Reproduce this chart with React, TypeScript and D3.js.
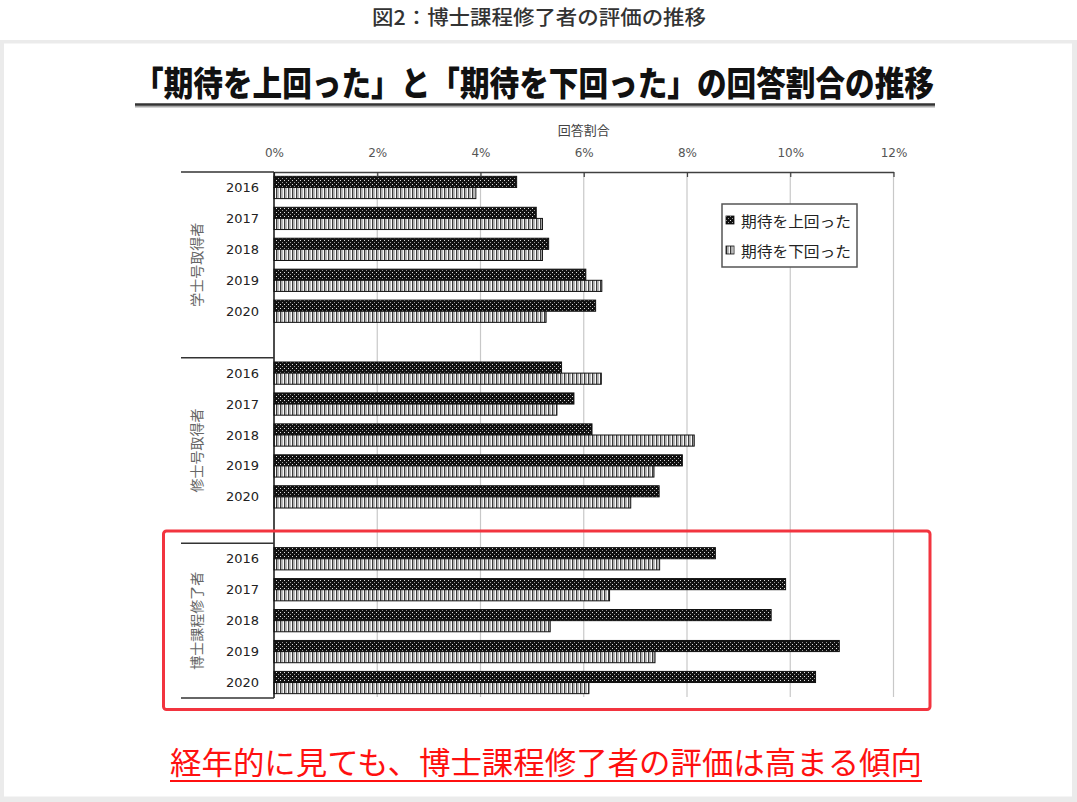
import { useEffect, useRef } from "react";
import * as d3 from "d3";

// values (percent)
const years = ["2016", "2017", "2018", "2019", "2020"];
const groups = ["学士号取得者", "修士号取得者", "博士課程修了者"];
const seriesNames = ["期待を上回った", "期待を下回った"];

const bachelorAbove = [4.7, 5.08, 5.32, 6.04, 6.23];
const bachelorBelow = [3.91, 5.2, 5.2, 6.35, 5.27];
const masterAbove = [5.57, 5.81, 6.16, 7.91, 7.46];
const masterBelow = [6.34, 5.48, 8.14, 7.36, 6.91];
const doctorAbove = [8.55, 9.91, 9.63, 10.95, 10.49];
const doctorBelow = [7.47, 6.5, 5.35, 7.38, 6.1];

const tickValues = [0, 2, 4, 6, 8, 10, 12];

const caption = "図2：博士課程修了者の評価の推移";
const title = "「期待を上回った」と「期待を下回った」の回答割合の推移";
const axisTitle = "回答割合";
const conclusion = "経年的に見ても、博士課程修了者の評価は高まる傾向";

const aboveByGroup = [bachelorAbove, masterAbove, doctorAbove];
const belowByGroup = [bachelorBelow, masterBelow, doctorBelow];

const JP = "'Noto Sans CJK JP', 'Noto Sans', sans-serif";

export default function App() {
  const axisRef = useRef<SVGGElement>(null);

  // one band per year, plus an empty band after each group except the last
  const rowKeys = groups.flatMap((g, gi) => [
    ...years.map((y) => `${g}|${y}`),
    ...(gi < groups.length - 1 ? [`${g}|gap`] : []),
  ]);

  const x = d3.scaleLinear().domain([0, 12]).range([274, 893.5]);
  const y = d3.scaleBand<string>().domain(rowKeys).range([172, 698]);
  const inner = d3
    .scaleBand<string>()
    .domain(seriesNames)
    .range([0, y.bandwidth()])
    .paddingOuter(0.39);

  const bars = groups.flatMap((g, gi) =>
    years.map((yr, yi) => ({
      key: `${g}|${yr}`,
      year: yr,
      values: [aboveByGroup[gi][yi], belowByGroup[gi][yi]],
    }))
  );

  const groupSpans = groups.map((g) => {
    const keys = rowKeys.filter((k) => k.startsWith(g + "|"));
    return { g, top: y(keys[0])!, bottom: y(keys[keys.length - 1])! + y.bandwidth() };
  });

  useEffect(() => {
    document.body.style.margin = "0";
    const g = d3.select(axisRef.current);
    g.selectAll("*").remove();
    g.call(
      d3
        .axisTop(x)
        .tickValues(tickValues)
        .tickFormat((d) => `${d}%`)
        .tickSizeInner(-5)
        .tickSizeOuter(0)
        .tickPadding(15)
    );
    g.select(".domain").attr("stroke", "#404040").attr("stroke-width", 1.5);
    g.selectAll(".tick line").attr("stroke", "#404040").attr("stroke-width", 1.2);
    g.selectAll(".tick text")
      .attr("fill", "#555")
      .attr("font-size", 12)
      .attr("font-family", "'DejaVu Sans', sans-serif");
  }, []);

  const fills = ["url(#patAbove)", "url(#patBelow)"];

  return (
    <svg width={1077} height={802} style={{ display: "block" }}>
      <defs>
        <pattern id="patAbove" width={4} height={4} patternUnits="userSpaceOnUse">
          <rect width={4} height={4} fill="#111" />
          <rect x={0} y={0} width={1} height={1} fill="#e0e0e0" />
          <rect x={2} y={2} width={1} height={1} fill="#999" />
        </pattern>
        <pattern id="patBelow" width={4} height={4} patternUnits="userSpaceOnUse">
          <rect width={4} height={4} fill="#fafafa" />
          <rect x={0} y={0} width={1.4} height={4} fill="#3a3a3a" />
          <rect x={2.2} y={0} width={0.8} height={4} fill="#aaa" />
        </pattern>
      </defs>

      <rect width={1077} height={802} fill="#fff" />
      <rect x={0} y={40} width={1077} height={762} fill="#ebebeb" />
      <rect x={4} y={43.5} width={1068} height={753} fill="#fff" />

      <text
        x={539}
        y={25}
        textAnchor="middle"
        fontFamily={JP}
        fontSize={20}
        fontWeight={500}
        fill="#333"
        textLength={334}
        lengthAdjust="spacingAndGlyphs"
      >
        {caption}
      </text>

      <text
        x={534}
        y={96}
        textAnchor="middle"
        fontFamily={JP}
        fontSize={34}
        fontWeight={900}
        fill="#111"
        textLength={800}
        lengthAdjust="spacingAndGlyphs"
      >
        {title}
      </text>
      <line x1={135} x2={935} y1={106.5} y2={106.5} stroke="#aaa" strokeWidth={2} />
      <line x1={135} x2={935} y1={104.5} y2={104.5} stroke="#333" strokeWidth={2.5} />

      {/* gridlines */}
      {tickValues.slice(1).map((t) => (
        <line key={t} x1={x(t)} x2={x(t)} y1={172} y2={697} stroke="#c8c8c8" strokeWidth={1.2} />
      ))}

      <text x={x(6)} y={135} textAnchor="middle" fontFamily={JP} fontSize={13} fill="#444">
        {axisTitle}
      </text>

      {/* bars */}
      {bars.map((b) =>
        b.values.map((v, i) => (
          <rect
            key={b.key + i}
            x={x(0)}
            y={y(b.key)! + inner(seriesNames[i])!}
            width={x(v) - x(0)}
            height={inner.bandwidth()}
            fill={fills[i]}
            stroke="#111"
            strokeWidth={1}
          />
        ))
      )}

      {/* category axis */}
      <g ref={axisRef} transform="translate(0,172)" />
      <line x1={274} x2={274} y1={172} y2={698} stroke="#111" strokeWidth={1.5} />
      {groupSpans.map((s) => (
        <line key={s.g + "l"} x1={181} x2={274} y1={s.top} y2={s.top} stroke="#333" strokeWidth={1.5} />
      ))}
      <line x1={181} x2={274} y1={698} y2={698} stroke="#333" strokeWidth={1.5} />
      {bars.map((b) => (
        <text
          key={b.key + "t"}
          x={259}
          y={y(b.key)! + y.bandwidth() / 2}
          textAnchor="end"
          dominantBaseline="central"
          fontFamily="'DejaVu Sans', sans-serif"
          fontSize={13}
          fill="#222"
        >
          {b.year}
        </text>
      ))}
      {groupSpans.map((s) => (
        <text
          key={s.g + "t"}
          transform={`translate(196,${(s.top + s.bottom) / 2}) rotate(-90)`}
          textAnchor="middle"
          dominantBaseline="central"
          fontFamily={JP}
          fontSize={14}
          fill="#666"
        >
          {s.g}
        </text>
      ))}

      {/* legend */}
      <rect x={722} y={204} width={135} height={63} fill="#fff" stroke="#555" strokeWidth={1.5} />
      {seriesNames.map((n, i) => (
        <g key={n} transform={`translate(726,${220 + i * 30})`}>
          <rect x={0} y={-4} width={8} height={8} fill={fills[i]} stroke="#111" strokeWidth={0.8} />
          <text
            x={15}
            y={0}
            dominantBaseline="central"
            fontFamily={JP}
            fontSize={15}
            fill="#222"
            textLength={110}
            lengthAdjust="spacingAndGlyphs"
          >
            {n}
          </text>
        </g>
      ))}

      {/* highlight box */}
      <rect x={163.5} y={531} width={766.5} height={178.5} rx={3} fill="none" stroke="#f2343f" strokeWidth={3} />

      <text
        x={546}
        y={774}
        textAnchor="middle"
        fontFamily={JP}
        fontSize={31}
        fill="#ff1010"
        textLength={752}
        lengthAdjust="spacingAndGlyphs"
      >
        {conclusion}
      </text>
      <line x1={170} x2={922} y1={781} y2={781} stroke="#ff1010" strokeWidth={2} />
    </svg>
  );
}
